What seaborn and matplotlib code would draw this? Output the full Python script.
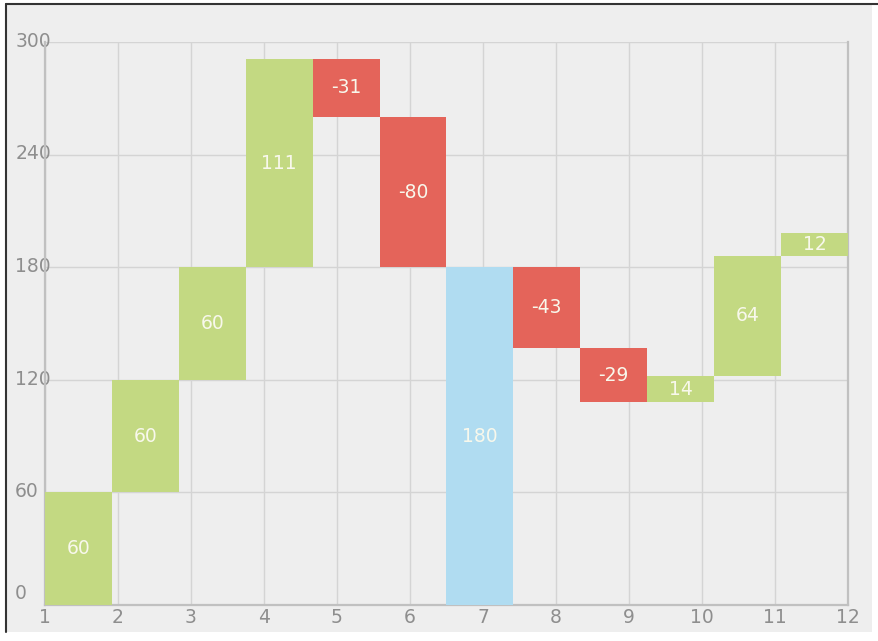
import numpy as np
import pandas as pd
import seaborn as sns
import matplotlib.pyplot as plt
from matplotlib.patches import Rectangle
from matplotlib.transforms import ScaledTranslation

# datos del waterfall
pasos = [1, 2, 3, 4, 5, 6, 7, 8, 9, 10, 11, 12]
cambios = [60, 60, 60, 111, -31, -80, 180, -43, -29, 14, 64, 12]
es_total = [False, False, False, False, False, False, True, False, False, False, False, False]
ticks_x = [1, 2, 3, 4, 5, 6, 7, 8, 9, 10, 11, 12]
ticks_y = [0, 60, 120, 180, 240, 300]

verde = '#c3d982'
rojo = '#e4645a'
azul = '#b0dcf1'

# base y altura de cada barra
df = pd.DataFrame({'paso': pasos, 'cambio': cambios, 'total': es_total})
acumulado = 0
bases = []
for c, t in zip(df['cambio'], df['total']):
    if t:
        bases.append(0)
        acumulado = c
    else:
        bases.append(acumulado if c >= 0 else acumulado + c)
        acumulado += c
df['base'] = bases
df['alto'] = df['cambio'].abs()
df['color'] = [azul if t else (verde if c >= 0 else rojo) for c, t in zip(df['cambio'], df['total'])]

sns.set_theme(style='whitegrid', rc={
    'axes.facecolor': '#eeeeee',
    'grid.color': '#d4d4d4',
    'grid.linewidth': 1.0,
    'axes.edgecolor': '#c0c0c0',
})
plt.rcParams['font.family'] = ['DejaVu Sans']

fig = plt.figure(figsize=(8.79, 6.41), dpi=100)
fig.patch.set_facecolor('white')
# panel de fondo con borde oscuro arriba e izquierda
fig.patches.append(Rectangle((6 / 879, 9 / 641), 866 / 879, 628 / 641, transform=fig.transFigure,
                             facecolor='#eeeeee', edgecolor='none', zorder=-2))
fig.add_artist(plt.Line2D([6 / 879, 6 / 879], [9 / 641, 637 / 641], transform=fig.transFigure,
                          color='#333333', lw=1.5))
fig.add_artist(plt.Line2D([6 / 879, 1], [637 / 641, 637 / 641], transform=fig.transFigure,
                          color='#333333', lw=1.5))

ax = fig.add_axes([45 / 879, 36 / 641, 803 / 879, 563 / 641])

n = len(df)
ancho = (ticks_x[-1] - ticks_x[0]) / n
xs = ticks_x[0] + (np.arange(n) + 0.5) * ancho
ax.bar(xs, df['alto'], width=ancho, bottom=df['base'], color=df['color'], linewidth=0, zorder=3)

for x, b, h, c in zip(xs, df['base'], df['alto'], df['cambio']):
    ax.text(x, b + h / 2, str(c), ha='center', va='center', color='#f8f8ec', fontsize=13.5, zorder=4)

ax.set_xlim(ticks_x[0], ticks_x[-1])
ax.set_ylim(ticks_y[0], ticks_y[-1])
ax.set_xticks(ticks_x)
ax.set_yticks(ticks_y)
ax.grid(True, zorder=0)
ax.set_axisbelow(True)
for s in ['left', 'bottom', 'right']:
    ax.spines[s].set_linewidth(1.6)
ax.spines['top'].set_visible(False)

ax.tick_params(axis='both', length=0, labelsize=13.5, labelcolor='#8e8e8e')
ax.tick_params(axis='y', pad=21.5)
ax.tick_params(axis='x', pad=2)
for lbl in ax.get_yticklabels():
    lbl.set_horizontalalignment('left')
    lbl.set_transform(lbl.get_transform() + ScaledTranslation(0, 2 / 72, fig.dpi_scale_trans))
cero = ax.get_yticklabels()[0]
cero.set_transform(cero.get_transform() + ScaledTranslation(0, 8 / 72, fig.dpi_scale_trans))

plt.savefig('out.png', dpi=100)
